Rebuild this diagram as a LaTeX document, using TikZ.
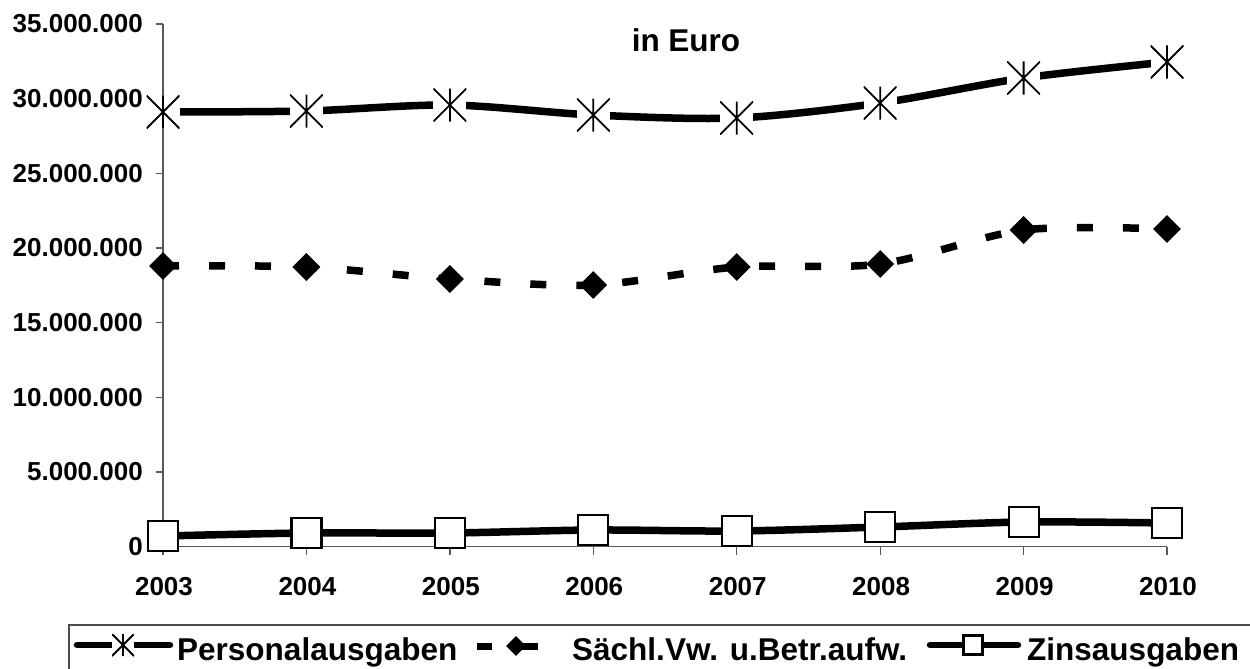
\documentclass[tikz,border=0pt]{standalone}
\usepackage{fontspec}
\setmainfont{Liberation Sans}
\usetikzlibrary{shapes.geometric}
\begin{document}
\begin{tikzpicture}[x=1pt,y=-1pt,
  axisline/.style={draw=black!65, line width=1.3pt},
  ticklab/.style={font=\fontsize{26}{30}\selectfont\bfseries, inner sep=0},
  legtext/.style={font=\fontsize{31.5}{36}\selectfont\bfseries, inner sep=0, anchor=base west},
  seriesline/.style={line width=7.5pt, line join=round},
  dashline/.style={line width=7.5pt, dash pattern=on 16pt off 30pt},
  starmark/.style={rectangle, fill=white, inner sep=0, minimum size=#1, path picture={
     \draw[line width=1.8pt] (path picture bounding box.north west) -- (path picture bounding box.south east)
       (path picture bounding box.south west) -- (path picture bounding box.north east)
       (path picture bounding box.north) -- (path picture bounding box.south);}},
  diamark/.style={diamond, fill=black, inner sep=0, minimum size=#1},
  sqmark/.style={rectangle, draw=black, line width=2.2pt, fill=white, inner sep=0, minimum size=#1},
]
\useasboundingbox (0,0) rectangle (1250,669);

% axes
\coordinate (ytop) at (163,24);
\coordinate (origin) at (163,546.7);
\coordinate (xend) at (1167,546.7);
\draw[axisline] (ytop) -- (origin) -- (xend);
\foreach \k/\lab in {0/0,1/5.000.000,2/10.000.000,3/15.000.000,4/20.000.000,5/25.000.000,6/30.000.000,7/35.000.000}{
  \draw[axisline] (156,546.7-\k*74.667) -- (163,546.7-\k*74.667);
  \node[ticklab, anchor=east] (yl\k) at (143,546.7-\k*74.667) {\lab};
}
\foreach \i/\yr in {0/2003,1/2004,2/2005,3/2006,4/2007,5/2008,6/2009,7/2010}{
  \draw[axisline] (163+\i*143.43,546.7) -- (163+\i*143.43,555);
  \node[ticklab, anchor=base] (xl\i) at (164+\i*143.43,595) {\yr};
}
\node[legtext, anchor=base] (title) at (686,52) {in Euro};

% data coordinates
\coordinate (p0) at (163,112);  \coordinate (p1) at (306.4,111);
\coordinate (p2) at (449.9,105);\coordinate (p3) at (593.3,115);
\coordinate (p4) at (736.7,118);\coordinate (p5) at (880.2,103);
\coordinate (p6) at (1023.6,78);\coordinate (p7) at (1167,62);

\coordinate (s0) at (163,266);  \coordinate (s1) at (306.4,267);
\coordinate (s2) at (449.9,279);\coordinate (s3) at (593.3,285);
\coordinate (s4) at (736.7,267);\coordinate (s5) at (880.2,264);
\coordinate (s6) at (1023.6,230);\coordinate (s7) at (1167,229);

\coordinate (z0) at (163,536);  \coordinate (z1) at (306.4,533);
\coordinate (z2) at (449.9,533);\coordinate (z3) at (593.3,530);
\coordinate (z4) at (736.7,531);\coordinate (z5) at (880.2,527);
\coordinate (z6) at (1023.6,522);\coordinate (z7) at (1167,523);

% series lines
\draw[seriesline] plot[smooth, tension=0.5] coordinates {(p0) (p1) (p2) (p3) (p4) (p5) (p6) (p7)};
\draw[dashline] plot[smooth, tension=0.5] coordinates {(s0) (s1) (s2) (s3) (s4) (s5) (s6) (s7)};
\draw[seriesline] plot[smooth, tension=0.5] coordinates {(z0) (z1) (z2) (z3) (z4) (z5) (z6) (z7)};

% markers
\foreach \i in {0,...,7}{
  \node[starmark=33pt] (pm\i) at (p\i) {};
  \node[diamark=28pt] (sm\i) at (s\i) {};
  \node[sqmark=30pt] (zm\i) at (z\i) {};
}

% legend
\coordinate (lgA) at (1250,625);
\coordinate (lgB) at (69,625);
\coordinate (lgC) at (69,669);
\draw[draw=black!70, line width=1.4pt] (lgA) -- (lgB) -- (lgC);

\coordinate (l1a) at (77,645); \coordinate (l1b) at (170,645);
\draw[line width=6.5pt, line cap=round] (l1a) -- (l1b);
\node[starmark=22pt] (l1m) at (123,645) {};
\node[legtext] (l1t) at (177,660) {Personalausgaben};

\coordinate (l2a) at (477,646); \coordinate (l2b) at (492,646);
\coordinate (l2c) at (516,646); \coordinate (l2d) at (538,646);
\draw[line width=7pt] (l2a) -- (l2b);
\draw[line width=7pt] (l2c) -- (l2d);
\node[diamark=20pt] (l2m) at (l2c) {};
\node[legtext] (l2t) at (572,660) {Sächl.Vw. u.Betr.aufw.};

\coordinate (l3a) at (930,645); \coordinate (l3b) at (1018,645);
\draw[line width=6.5pt, line cap=round] (l3a) -- (l3b);
\node[sqmark=19pt] (l3m) at (973,645) {};
\node[legtext] (l3t) at (1027,660) {Zinsausgaben};
\end{tikzpicture}
\end{document}
